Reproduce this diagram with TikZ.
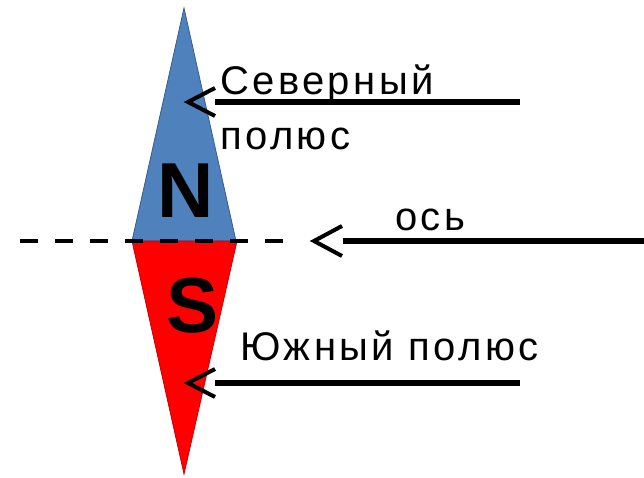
\documentclass[tikz,border=0pt]{standalone}
\usepackage{fontspec}
\setmainfont{Liberation Sans}
\newfontfamily\spaced[LetterSpace=8.5]{Liberation Sans}
\begin{document}
\begin{tikzpicture}[x=1pt,y=-1pt,
  lbl/.style={font=\spaced\fontsize{40}{44}\selectfont, anchor=base west, inner sep=0pt},
  pole/.style={font=\fontsize{78}{80}\selectfont\bfseries, inner sep=0pt},
  shaft/.style={line width=5.5pt},
  chev/.style={line width=4pt, line cap=butt, line join=miter},
  axisline/.style={line width=4pt, dash pattern=on 18pt off 17pt}]
\useasboundingbox (0,0) rectangle (644,478);
\definecolor{nblue}{RGB}{79,129,189}
\definecolor{nblueb}{RGB}{56,93,138}
\definecolor{sred}{RGB}{255,0,0}
\definecolor{sredb}{RGB}{200,0,0}
% needle
\filldraw[fill=nblue, draw=nblueb, line width=0.8pt] (184,8) -- (236,241) -- (132,241) -- cycle;
\filldraw[fill=sred, draw=sredb, line width=0.8pt] (132,241) -- (237,241) -- (184,474) -- cycle;
\node[pole] (N) at (185.5,191) {N};
\node[pole] (S) at (193,306) {S};
% axis
\coordinate (axL) at (20,241);
\coordinate (axR) at (292,241);
\draw[axisline] (axL) -- (axR);
% labels
\node[lbl] (north) at (220,95) {Северный};
\node[lbl] (northb) at (220,150) {полюс};
\node[lbl] (axis) at (395,230) {ось};
\node[lbl] (south) at (240,360) {Южный полюс};
% arrows
\coordinate (tipN) at (188,102);
\coordinate (startN) at (520,102);
\coordinate (endN) at (215,102);
\draw[shaft] (startN) -- (endN);
\draw[chev] ([shift={(27,-14)}]tipN) -- (tipN) -- ([shift={(27,14)}]tipN);
\coordinate (tipA) at (314,241);
\coordinate (startA) at (644,241);
\coordinate (endA) at (343,241);
\draw[shaft] (startA) -- (endA);
\draw[chev] ([shift={(28,-15)}]tipA) -- (tipA) -- ([shift={(28,15)}]tipA);
\coordinate (tipS) at (188,383);
\coordinate (startS) at (520,383);
\coordinate (endS) at (215,383);
\draw[shaft] (startS) -- (endS);
\draw[chev] ([shift={(27,-14)}]tipS) -- (tipS) -- ([shift={(27,14)}]tipS);
\end{tikzpicture}
\end{document}
